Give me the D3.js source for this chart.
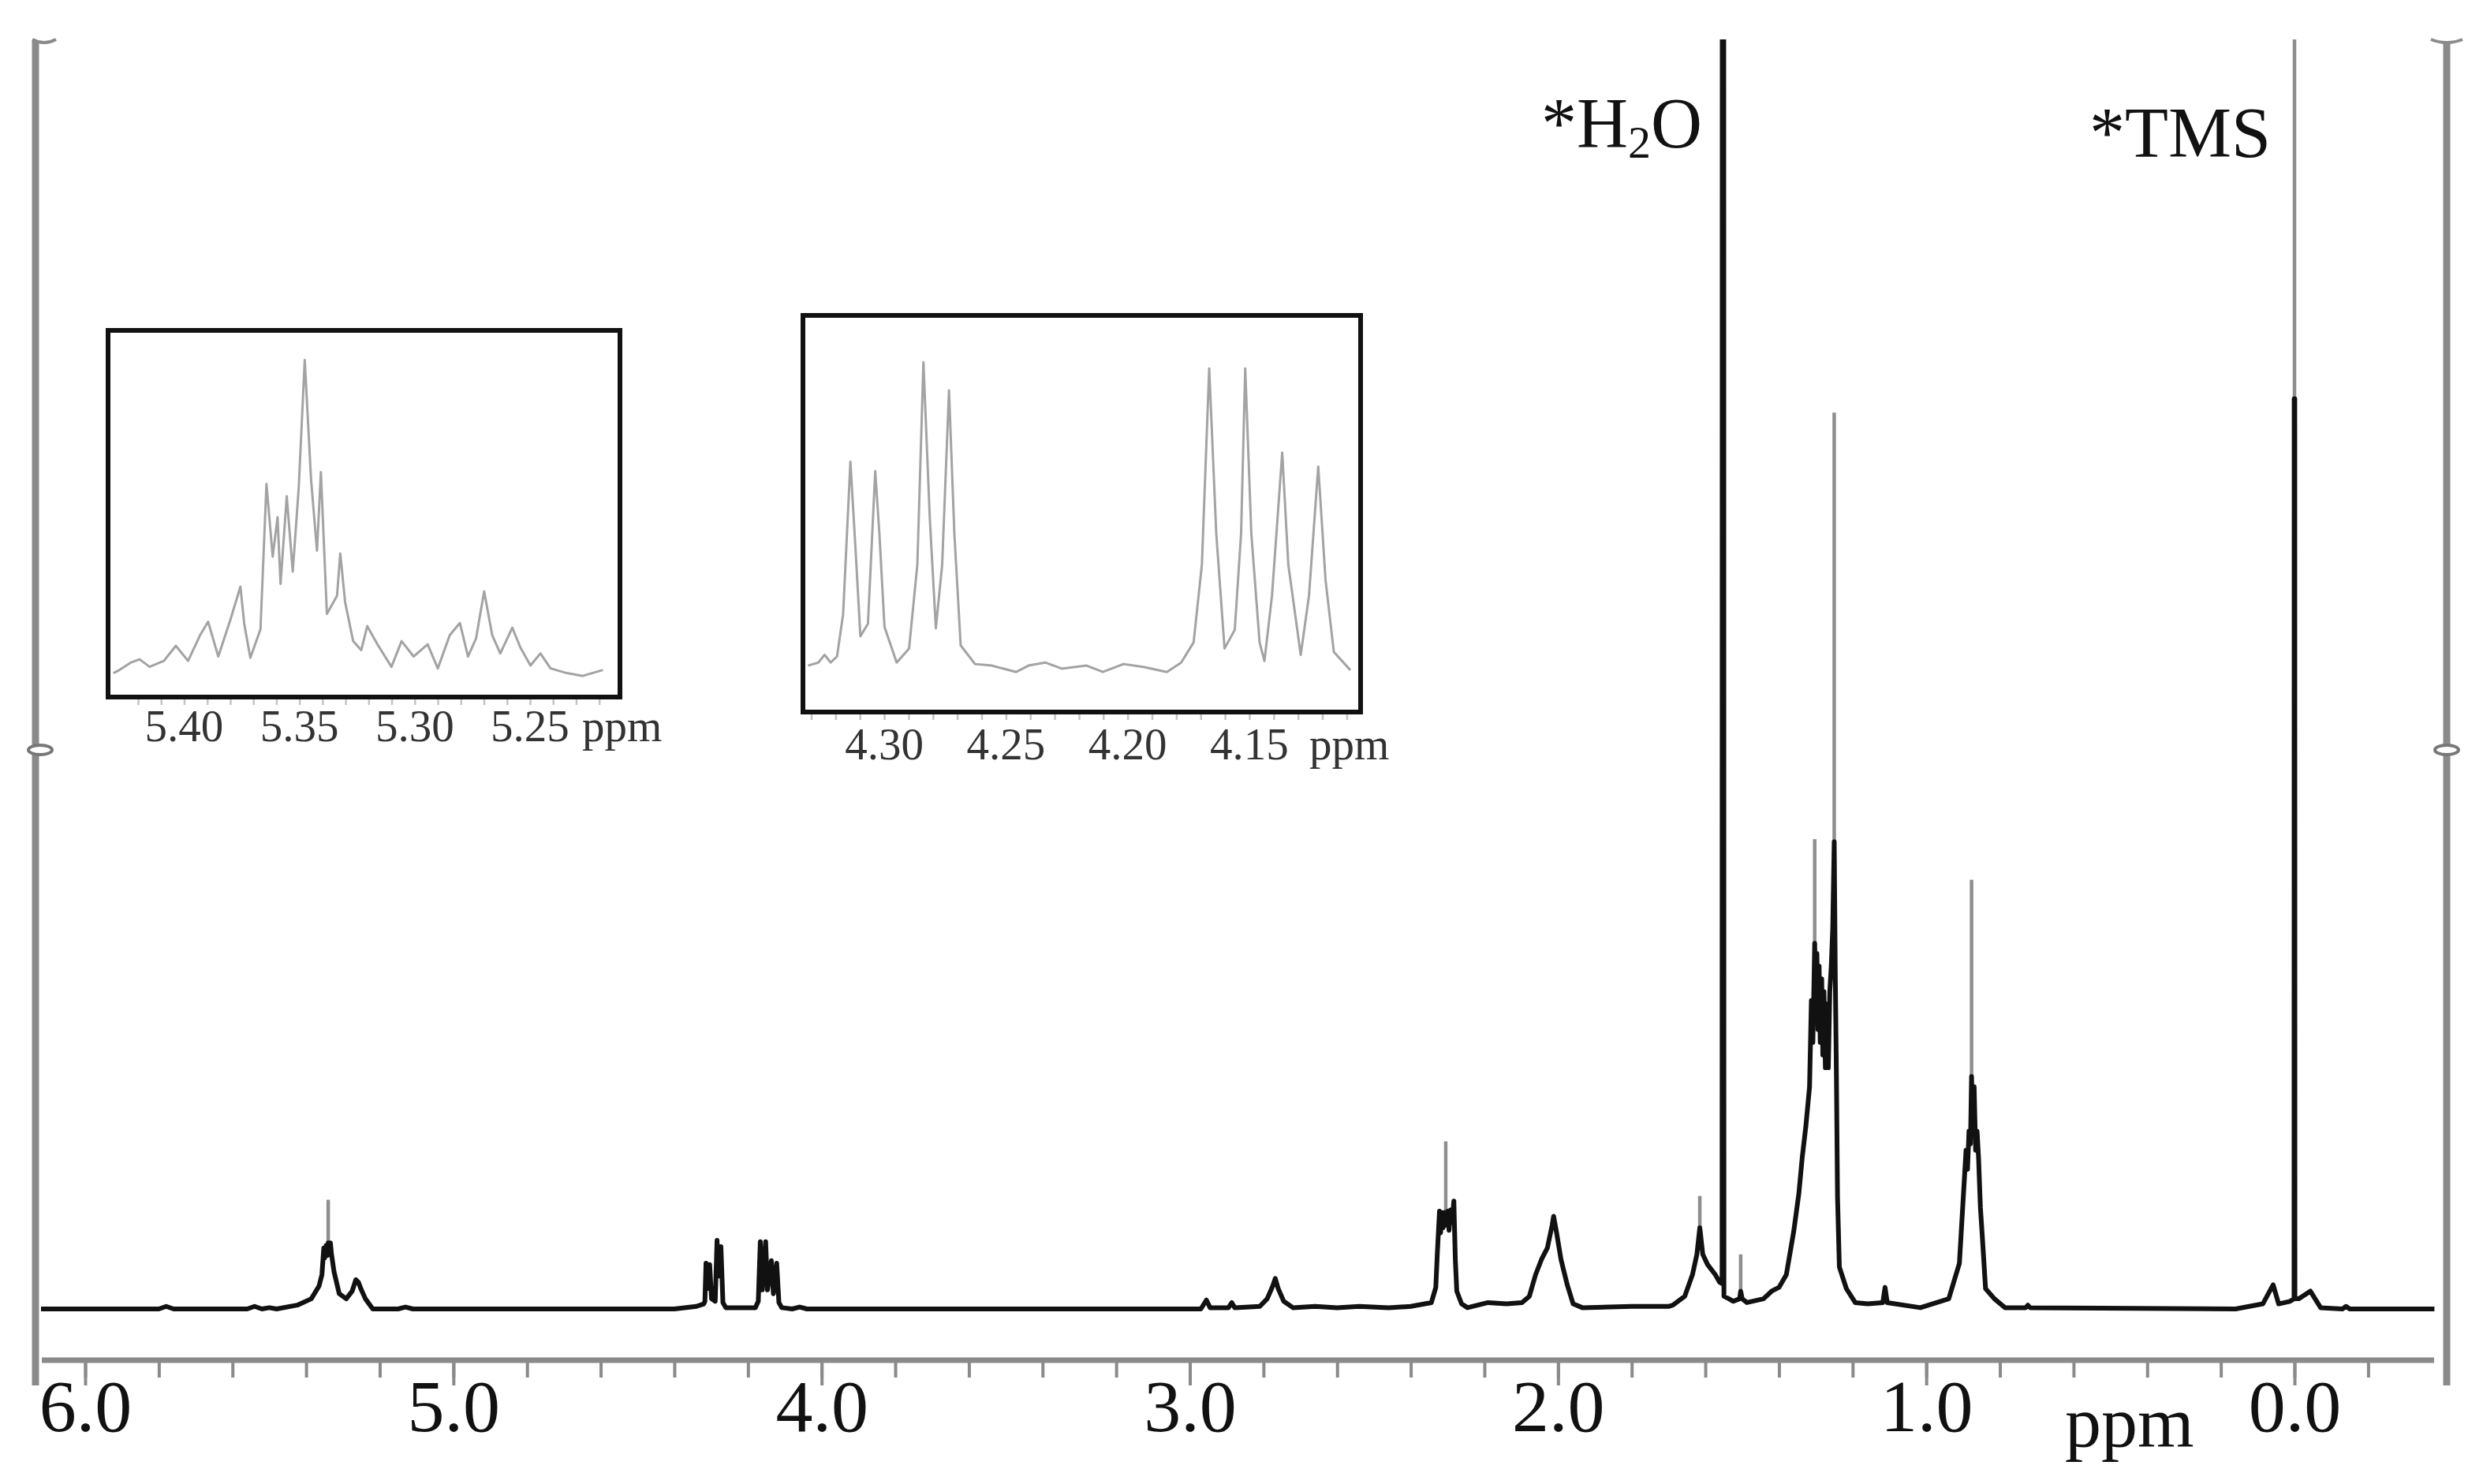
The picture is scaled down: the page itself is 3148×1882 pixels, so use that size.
<!DOCTYPE html>
<html>
<head>
<meta charset="utf-8">
<script src="https://cdn.jsdelivr.net/npm/d3@7"></script>
<style>
  body { margin: 0; background: #fff; }
  text { font-family: "Liberation Serif", "Times New Roman", serif; }
</style>
</head>
<body>
<svg id="chart"></svg>
<script>
// ---- data (ppm, intensity in % of plot height) ----
const majorTicks = [6, 5, 4, 3, 2, 1, 0]
const minorTicks = [6.0, 5.8, 5.6, 5.4, 5.2, 5.0, 4.8, 4.6, 4.4, 4.2, 4.0, 3.8, 3.6, 3.4, 3.2, 3.0,
  2.8, 2.6, 2.4, 2.2, 2.0, 1.8, 1.6, 1.4, 1.2, 1.0, 0.8, 0.6, 0.4, 0.2, 0.0, -0.2]

const mainSpectrum = [
  [6.12, 0], [5.80, 0], [5.78, 0.2], [5.76, 0], [5.56, 0], [5.54, 0.2], [5.52, 0], [5.50, 0.1], [5.48, 0],
  [5.424, 0.3], [5.386, 0.8], [5.365, 1.8], [5.357, 2.7], [5.352, 4.8], [5.350, 4.0], [5.346, 5.0],
  [5.343, 4.2], [5.340, 5.2], [5.337, 4.4], [5.334, 5.2], [5.331, 4.3], [5.324, 2.9], [5.310, 1.2],
  [5.291, 0.8], [5.275, 1.4], [5.265, 2.3], [5.258, 2.1], [5.250, 1.5], [5.239, 0.8], [5.219, 0],
  [5.15, 0], [5.13, 0.15], [5.11, 0],
  [4.40, 0], [4.34, 0.2], [4.32, 0.4], [4.317, 0.6], [4.314, 3.6], [4.311, 1.6], [4.307, 2.6], [4.304, 3.5],
  [4.299, 0.8], [4.289, 0.6], [4.284, 5.4], [4.280, 2.6], [4.2735, 4.9], [4.268, 0.5], [4.26, 0.1],
  [4.18, 0.1], [4.172, 0.6], [4.1665, 5.3], [4.161, 1.5], [4.152, 5.3], [4.147, 1.5], [4.1365, 3.8],
  [4.131, 1.2], [4.122, 3.6], [4.116, 0.5], [4.108, 0.1], [4.08, 0], [4.06, 0.15], [4.04, 0],
  [2.97, 0], [2.955, 0.7], [2.945, 0.1], [2.895, 0.1], [2.886, 0.5], [2.878, 0.1], [2.81, 0.2], [2.79, 0.8],
  [2.775, 1.8], [2.768, 2.4], [2.76, 1.6], [2.745, 0.6], [2.72, 0.1], [2.66, 0.2], [2.60, 0.1], [2.54, 0.2],
  [2.46, 0.1], [2.40, 0.2], [2.344, 0.5], [2.332, 1.7], [2.328, 4.3], [2.322, 7.7], [2.319, 6.0],
  [2.315, 7.6], [2.312, 6.4], [2.308, 7.6], [2.305, 6.6], [2.300, 7.7], [2.296, 6.2], [2.292, 7.8],
  [2.288, 6.8], [2.283, 8.5], [2.279, 3.9], [2.275, 1.4], [2.262, 0.4], [2.246, 0.1], [2.19, 0.5],
  [2.14, 0.4], [2.098, 0.5], [2.078, 1.0], [2.061, 2.7], [2.045, 3.9], [2.029, 4.8], [2.016, 6.6],
  [2.012, 7.3], [2.004, 6.0], [1.992, 3.9], [1.975, 1.9], [1.959, 0.4], [1.934, 0.1], [1.80, 0.2],
  [1.70, 0.2], [1.688, 0.3], [1.656, 1.0], [1.635, 2.7], [1.623, 4.3], [1.615, 6.4], [1.607, 4.3],
  [1.594, 3.5], [1.573, 2.7], [1.561, 2.1], [1.5545, 2.0], [1.5540, 110], [1.5500, 110], [1.5495, 1.0],
  [1.536, 0.8], [1.524, 0.6], [1.507, 0.8], [1.504, 1.4], [1.500, 0.8], [1.487, 0.5], [1.442, 0.8],
  [1.42, 1.4], [1.40, 1.7], [1.38, 2.7], [1.36, 6.1], [1.346, 9.1], [1.337, 11.9], [1.327, 14.4],
  [1.317, 17.5], [1.312, 24.3], [1.308, 21], [1.303, 28.8], [1.300, 23], [1.297, 28], [1.294, 22],
  [1.291, 27], [1.288, 21], [1.284, 26], [1.281, 20], [1.278, 25], [1.274, 19], [1.270, 24],
  [1.266, 19], [1.262, 25], [1.258, 27], [1.254, 30], [1.250, 36.8], [1.247, 26], [1.244, 18.3],
  [1.241, 8.8], [1.236, 3.3], [1.217, 1.6], [1.193, 0.5], [1.159, 0.4], [1.118, 0.5], [1.112, 1.7],
  [1.106, 0.5], [1.016, 0.1], [0.939, 0.8], [0.910, 3.6], [0.896, 10.5], [0.892, 12.5], [0.888, 11],
  [0.884, 14], [0.880, 13], [0.877, 18.3], [0.874, 14], [0.870, 17.5], [0.866, 12.5], [0.862, 14],
  [0.858, 11.9], [0.853, 8], [0.848, 5.8], [0.839, 1.6], [0.815, 0.8], [0.786, 0.1], [0.730, 0.1],
  [0.724, 0.3], [0.718, 0.1], [0.16, 0], [0.086, 0.4], [0.058, 1.9], [0.043, 0.4], [0.012, 0.6],
  [0.0012, 0.8], [0.0008, 71.7], [-0.0008, 71.7], [-0.0012, 0.8], [-0.012, 0.8], [-0.043, 1.4],
  [-0.071, 0.1], [-0.13, 0], [-0.14, 0.2], [-0.15, 0], [-0.38, 0]
]

// narrow lines that print grey above the black envelope: [ppm, from, to]
const spikes = [
  [5.340, 5.2, 8.6], [2.305, 7.7, 13.2], [1.615, 5.0, 8.9], [1.504, 1.4, 4.3],
  [1.303, 28.8, 37.0], [1.250, 36.8, 70.6], [0.877, 18.3, 33.8], [0.000, 71.7, 100]
]

const inset1Ticks = [5.40, 5.35, 5.30, 5.25]
const inset1Spectrum = [
  [5.4307, -0.4], [5.428, 0.6], [5.423, 3.0], [5.4193, 4.0], [5.415, 1.6], [5.4088, 3.5], [5.4036, 8.3],
  [5.3983, 3.5], [5.3931, 11.7], [5.3896, 16.0], [5.3852, 4.9], [5.380, 16.5], [5.3756, 27.2],
  [5.3739, 15.1], [5.3713, 4.5], [5.3669, 13.6], [5.3643, 60.0], [5.3616, 36.8], [5.3595, 49.4],
  [5.3582, 28.1], [5.3555, 56.1], [5.3529, 32.0], [5.3503, 59.0], [5.3477, 99.6], [5.345, 61.9],
  [5.3424, 38.7], [5.3407, 63.8], [5.3381, 18.5], [5.3337, 24.3], [5.3323, 37.8], [5.3302, 22.3],
  [5.3267, 9.8], [5.3232, 6.9], [5.3206, 14.6], [5.3162, 8.8], [5.3101, 1.6], [5.3057, 9.8],
  [5.3005, 4.9], [5.2944, 8.8], [5.290, 1.1], [5.2848, 11.7], [5.2804, 15.6], [5.2769, 4.9],
  [5.2734, 10.7], [5.2699, 25.7], [5.2664, 11.7], [5.2629, 5.9], [5.2577, 14.1], [5.2542, 7.8],
  [5.2498, 2.0], [5.2455, 5.9], [5.2411, 1.1], [5.2341, -0.4], [5.2271, -1.3], [5.2184, 0.6]
]

const inset2Ticks = [4.30, 4.25, 4.20, 4.15]
const inset2Spectrum = [
  [4.3313, 0.5], [4.3271, 1.5], [4.3245, 4.0], [4.322, 1.5], [4.3194, 3.5], [4.3169, 17.3], [4.3139, 67.3],
  [4.3118, 38.7], [4.3098, 10.1], [4.3067, 14.2], [4.3037, 64.2], [4.302, 43.8], [4.2999, 13.2],
  [4.2949, 1.5], [4.2898, 6.1], [4.2864, 33.6], [4.2839, 99.9], [4.2813, 48.9], [4.2788, 12.7],
  [4.2762, 33.6], [4.2734, 90.7], [4.2712, 43.8], [4.2686, 7.1], [4.2627, 1.0], [4.2559, 0.5],
  [4.2458, -1.6], [4.2407, 0.5], [4.2339, 1.5], [4.2271, -0.5], [4.2169, 0.5], [4.2102, -1.6],
  [4.2017, 1.0], [4.1932, 0], [4.1839, -1.6], [4.178, 1.5], [4.1729, 8.1], [4.1695, 33.6],
  [4.1665, 97.9], [4.1636, 43.8], [4.1602, 6.1], [4.156, 12.2], [4.1534, 43.8], [4.1517, 97.9],
  [4.1492, 43.8], [4.1458, 8.1], [4.1438, 2.0], [4.1407, 23.4], [4.1365, 70.3], [4.134, 33.6],
  [4.1289, 4.0], [4.1255, 23.4], [4.1217, 65.7], [4.1187, 28.5], [4.1153, 5.0], [4.1085, -1.0]
]

const labels = [
  { ppm: 1.553, main: '*H', sub: '2', tail: 'O', y: 187 },
  { ppm: 0.0, main: '*TMS', y: 199 }
]

// ---- layout ----
const W = 3148
const H = 1882
const svg = d3.select('#chart').attr('width', W).attr('height', H)
  .style('background', '#fff')

const frameL = 45
const frameR = 3102
const frameTop = 52
const frameBottom = 1757

const x = d3.scaleLinear().domain([6.0, 0.0]).range([108, 2909])
const y = d3.scaleLinear().domain([0, 100]).range([1660, 50])

svg.append('clipPath').attr('id', 'plotClip')
  .append('rect')
  .attr('x', frameL).attr('y', 50)
  .attr('width', frameR - frameL).attr('height', 1700)

// frame verticals
const frameColor = '#8a8a8a'
;[frameL, frameR].forEach((fx, i) => {
  svg.append('line')
    .attr('x1', fx).attr('x2', fx)
    .attr('y1', frameTop).attr('y2', frameBottom)
    .attr('stroke', frameColor).attr('stroke-width', 9)
  const a = i === 0 ? fx - 4 : fx - 20
  const b = i === 0 ? fx + 26 : fx + 20
  svg.append('path') // little cap at the top
    .attr('d', `M${a},${frameTop - 2} Q${(a + b) / 2},${frameTop + 6} ${b},${frameTop - 2}`)
    .attr('fill', 'none').attr('stroke', frameColor).attr('stroke-width', 4)
  svg.append('ellipse')
    .attr('cx', fx + (i === 0 ? 6 : 0)).attr('cy', 951)
    .attr('rx', 15).attr('ry', 6)
    .attr('fill', '#fff').attr('stroke', '#777').attr('stroke-width', 4)
})

// ---- main spectrum ----
const line = d3.line().x(d => x(d[0])).y(d => y(d[1]))
const plot = svg.append('g').attr('clip-path', 'url(#plotClip)')

plot.selectAll('.spike')
  .data(spikes)
  .enter()
  .append('line')
  .attr('class', 'spike')
  .attr('x1', d => x(d[0])).attr('x2', d => x(d[0]))
  .attr('y1', d => y(d[1])).attr('y2', d => y(d[2]))
  .attr('stroke', '#8e8e8e').attr('stroke-width', 4.5)

plot.append('path')
  .datum(mainSpectrum)
  .attr('d', line)
  .attr('fill', 'none')
  .attr('stroke', '#111')
  .attr('stroke-width', 6)
  .attr('stroke-linejoin', 'round')

// ---- main axis ----
const axisY = 1725
svg.append('line')
  .attr('x1', 53).attr('x2', 3086)
  .attr('y1', axisY).attr('y2', axisY)
  .attr('stroke', frameColor).attr('stroke-width', 7)

const minorAxis = svg.append('g')
  .attr('transform', `translate(0,${axisY})`)
  .call(d3.axisBottom(x).tickValues(minorTicks).tickSize(22).tickFormat(''))
const majorAxis = svg.append('g')
  .attr('transform', `translate(0,${axisY})`)
  .call(d3.axisBottom(x).tickValues(majorTicks).tickSize(32).tickFormat(d3.format('.1f')))

;[minorAxis, majorAxis].forEach(g => {
  g.select('.domain').remove()
  g.selectAll('.tick line').attr('stroke', frameColor).attr('stroke-width', 4)
})
majorAxis.selectAll('.tick text')
  .attr('y', 90).attr('dy', 0)
  .attr('font-size', 94)
  .attr('fill', '#111')
  .style('font-family', '"Liberation Serif", "Times New Roman", serif')

svg.append('text')
  .attr('x', 2618).attr('y', 1835)
  .attr('font-size', 92).attr('fill', '#111')
  .text('ppm')

// peak labels
labels.forEach(l => {
  const t = svg.append('text')
    .attr('y', l.y)
    .attr('font-size', 90)
    .attr('fill', '#111')
    .attr('text-anchor', 'end')
    .attr('x', x(l.ppm) - (l.sub ? 26 : 30))
  t.append('tspan').text(l.main)
  if (l.sub) {
    t.append('tspan').attr('font-size', 58).attr('dy', 13).text(l.sub)
    t.append('tspan').attr('dy', -13).text(l.tail)
  }
})

// ---- insets ----
function drawInset (cfg) {
  const g = svg.append('g')
  const ix = d3.scaleLinear().domain(cfg.domain).range([cfg.left, cfg.right])
  const iy = d3.scaleLinear().domain([0, 100]).range(cfg.yRange)
  const clipId = 'clip' + cfg.id

  g.append('clipPath').attr('id', clipId)
    .append('rect')
    .attr('x', cfg.left).attr('y', cfg.top)
    .attr('width', cfg.right - cfg.left).attr('height', cfg.bottom - cfg.top)

  g.append('path')
    .datum(cfg.data)
    .attr('clip-path', `url(#${clipId})`)
    .attr('d', d3.line().x(d => ix(d[0])).y(d => iy(d[1])))
    .attr('fill', 'none')
    .attr('stroke', '#a3a3a3')
    .attr('stroke-width', 3)
    .attr('stroke-linejoin', 'round')

  g.append('rect')
    .attr('x', cfg.left).attr('y', cfg.top)
    .attr('width', cfg.right - cfg.left).attr('height', cfg.bottom - cfg.top)
    .attr('fill', 'none').attr('stroke', '#111').attr('stroke-width', 6)

  const ax = g.append('g')
    .attr('transform', `translate(0,${cfg.bottom + 3})`)
    .call(d3.axisBottom(ix).tickValues(cfg.minor).tickSize(7).tickFormat(''))
  ax.select('.domain').remove()
  ax.selectAll('.tick line').attr('stroke', '#c4c4c4').attr('stroke-width', 2.5)

  g.selectAll('.ilabel')
    .data(cfg.ticks)
    .enter()
    .append('text')
    .attr('class', 'ilabel')
    .attr('x', d => ix(d))
    .attr('y', cfg.labelY)
    .attr('text-anchor', 'middle')
    .attr('font-size', 57)
    .attr('fill', '#333')
    .text(d => d3.format('.2f')(d))

  g.append('text')
    .attr('x', cfg.ppmX).attr('y', cfg.labelY)
    .attr('font-size', 57).attr('fill', '#333')
    .text('ppm')
}

drawInset({
  id: 1,
  domain: [5.433, 5.211],
  left: 137, right: 786, top: 419, bottom: 884,
  yRange: [852, 455],
  data: inset1Spectrum,
  ticks: inset1Ticks,
  minor: [5.42, 5.41, 5.40, 5.39, 5.38, 5.37, 5.36, 5.35, 5.34, 5.33, 5.32, 5.31, 5.30, 5.29, 5.28, 5.27, 5.26, 5.25, 5.24, 5.23, 5.22],
  labelY: 940,
  ppmX: 738
})

drawInset({
  id: 2,
  domain: [4.3334, 4.1043],
  left: 1018, right: 1725, top: 400, bottom: 903,
  yRange: [846, 459],
  data: inset2Spectrum,
  ticks: inset2Ticks,
  minor: [4.33, 4.32, 4.31, 4.30, 4.29, 4.28, 4.27, 4.26, 4.25, 4.24, 4.23, 4.22, 4.21, 4.20, 4.19, 4.18, 4.17, 4.16, 4.15, 4.14, 4.13, 4.12, 4.11],
  labelY: 963,
  ppmX: 1660
})
</script>
</body>
</html>
